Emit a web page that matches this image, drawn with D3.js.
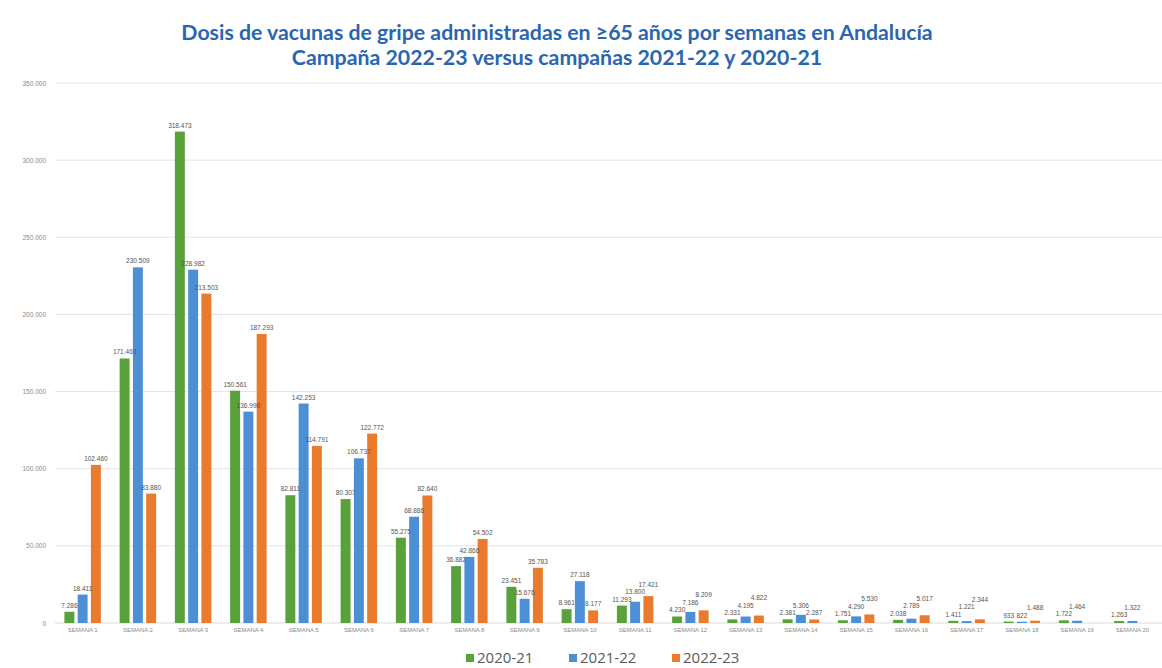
<!DOCTYPE html>
<html><head><meta charset="utf-8">
<script src="https://cdn.jsdelivr.net/npm/d3@7"></script>
<style>body{margin:0;background:#fff}svg{display:block}</style>
</head><body>
<svg id="c" width="1162" height="668"></svg>
<script>
const weeks = ["SEMANA 1","SEMANA 2","SEMANA 3","SEMANA 4","SEMANA 5","SEMANA 6","SEMANA 7","SEMANA 8","SEMANA 9","SEMANA 10","SEMANA 11","SEMANA 12","SEMANA 13","SEMANA 14","SEMANA 15","SEMANA 16","SEMANA 17","SEMANA 18","SEMANA 19","SEMANA 20"];
const seriesNames = ["2020-21","2021-22","2022-23"];
const v2020 = [7286,171463,318473,150561,82811,80307,55275,36882,23451,8961,11293,4230,2331,2381,1751,2038,1411,933,1722,1263];
const v2021 = [18411,230509,228982,136998,142253,106737,68886,42866,15676,27118,13800,7186,4195,5306,4290,2789,1221,822,1464,1322];
const v2022 = [102460,83880,213503,187293,114791,122772,82640,54502,35783,8177,17421,8209,4822,2287,5530,5017,2344,1488,null,null];
const yTicks = [0,50000,100000,150000,200000,250000,300000,350000];
const colors = ["#59a13a","#4c8fd5","#ea7a2e"];
const titleLines = ["Dosis  de vacunas de gripe administradas en \u226565 años por semanas en Andalucía","Campaña 2022-23 versus campañas 2021-22 y 2020-21"];

const loc = d3.formatLocale({decimal:",",thousands:".",grouping:[3],currency:["","€"]});
const fmt = loc.format(",d");
const svg = d3.select("#c");
const mLeft = 55, mRight = 1160, mTop = 83, mBottom = 623;

const x = d3.scaleBand().domain(weeks).range([mLeft,mRight]).paddingInner(0.34).paddingOuter(0.17);
const xs = d3.scaleBand().domain(seriesNames).range([0,x.bandwidth()]).paddingInner(0.25);
const y = d3.scaleLinear().domain([0,350000]).range([mBottom,mTop]);

// grid
svg.append("g").selectAll("line").data(yTicks.slice(1)).join("line")
  .attr("x1",mLeft).attr("x2",1162).attr("y1",d=>y(d)).attr("y2",d=>y(d))
  .attr("stroke","#e4e4e4").attr("stroke-width",1);
// y axis labels
const yAxis = d3.axisLeft(y).tickValues(yTicks).tickFormat(d=>d===0?"0":fmt(d)).tickSize(0).tickPadding(0);
const ga = svg.append("g").attr("transform",`translate(${mLeft-9},0)`).call(yAxis);
ga.select(".domain").remove();
ga.selectAll("text").attr("font-family","Liberation Sans, Arial").attr("font-size",6.5).attr("fill","#8a8a8a");
// baseline
svg.append("line").attr("x1",mLeft).attr("x2",1162).attr("y1",mBottom).attr("y2",mBottom).attr("stroke","#dcdcdc");

const data = weeks.map((w,i)=>({week:w, vals:[v2020[i],v2021[i],v2022[i]]}));
const groups = svg.append("g").selectAll("g").data(data).join("g")
  .attr("transform",d=>`translate(${x(d.week)},0)`);
groups.selectAll("rect").data(d=>d.vals.map((v,j)=>({v,s:seriesNames[j],j})).filter(e=>e.v!=null)).join("rect")
  .attr("x",e=>xs(e.s)).attr("width",xs.bandwidth())
  .attr("y",e=>y(e.v)).attr("height",e=>mBottom-y(e.v))
  .attr("fill",e=>colors[e.j]);
const labels = groups.selectAll("text").data(d=>d.vals.map((v,j)=>({v,s:seriesNames[j],j})).filter(e=>e.v!=null)).join("text")
  .attr("x",e=>xs(e.s)+xs.bandwidth()/2).attr("y",e=>y(e.v)-4)
  .attr("text-anchor","middle").attr("font-family","Liberation Sans, Arial").attr("font-size",6.5).attr("fill","#555")
  .text(e=>fmt(e.v));

// simple collision avoidance for value labels
const placed = [];
labels.each(function(){
  const el = d3.select(this);
  const g = this.parentNode.getAttribute("transform").match(/translate\(([-\d.]+)/);
  const ox = +g[1];
  let b = this.getBBox();
  let x0 = ox + b.x, x1 = x0 + b.width, yTop = b.y, yBot = b.y + b.height;
  let dy = 0, moved = true, guard = 0;
  while (moved && guard++ < 20) {
    moved = false;
    for (const p of placed) {
      if (x0 < p.x1 + 1 && x1 > p.x0 - 1 && yTop - dy < p.yBot && yBot - dy > p.yTop) {
        dy = yBot - p.yTop + 0.5; moved = true;
      }
    }
  }
  if (dy) el.attr("y", +el.attr("y") - dy);
  placed.push({x0, x1, yTop: yTop - dy, yBot: yBot - dy});
});

// x labels
const xAxis = d3.axisBottom(x).tickSize(0).tickPadding(0);
const gx = svg.append("g").attr("transform",`translate(0,${mBottom+5})`).call(xAxis);
gx.select(".domain").remove();
gx.selectAll("text").attr("font-family","Liberation Sans, Arial").attr("font-size",6).attr("fill","#8a8a8a");

// title
svg.append("g").selectAll("text").data(titleLines).join("text")
  .attr("x",557).attr("y",(d,i)=>40+i*25).attr("text-anchor","middle")
  .attr("font-family","Lato").attr("font-weight","bold").attr("font-size",21.3).attr("fill","#2a66b0")
  .text(d=>d);

// legend
const lg = svg.append("g").selectAll("g").data(seriesNames).join("g")
  .attr("transform",(d,i)=>`translate(${466+i*103},655)`);
lg.append("rect").attr("width",8).attr("height",8).attr("y",-1).attr("fill",(d,i)=>colors[i]);
lg.append("text").attr("x",11).attr("y",7.5).attr("font-family","Open Sans").attr("font-size",15).attr("fill","#5a5a5a").text(d=>d);
</script>
</body></html>
